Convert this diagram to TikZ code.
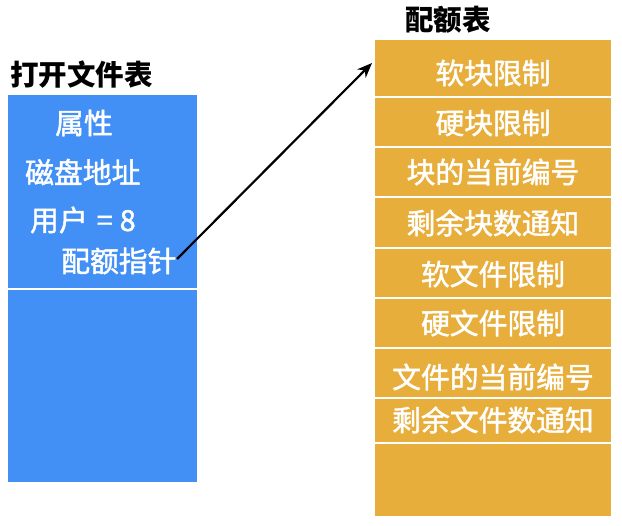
\documentclass[tikz,border=0pt]{standalone}
\usepackage{fontspec}
\setmainfont{Noto Sans CJK SC}
\newfontfamily\medfont[FakeBold=1.6]{Noto Sans CJK SC}
\usetikzlibrary{arrows.meta}
\definecolor{bluebox}{HTML}{4290F5}
\definecolor{orangebox}{HTML}{E8AE3B}
\begin{document}
\begin{tikzpicture}[x=1pt,y=-1pt,
  wtext/.style={text=white,font=\medfont\fontsize{28.8}{32}\selectfont,inner sep=0pt},
  ttext/.style={text=black,font=\fontsize{28.5}{32}\selectfont\bfseries,inner sep=0pt},
  sep/.style={draw=white,line width=2pt}]
\useasboundingbox (0,0) rectangle (622,526);
% left table
\node[draw=none,fill=bluebox,minimum width=189pt,minimum height=387pt,inner sep=0pt,anchor=north west] (ft) at (8,95) {};
\draw[sep] (8,289) -- (197,289);
\node[ttext,anchor=west] (ftt) at (10,75) {打开文件表};
\node[wtext,anchor=west] (a1) at (55,123) {属性};
\node[wtext,anchor=west] (a2) at (25,172) {磁盘地址};
\node[wtext,anchor=west] (a3) at (30,220) {用户\hspace{9pt}=\hspace{7pt}8};
\node[wtext,anchor=west] (a4) at (61,261) {配额指针};
% right table
\node[fill=orangebox,minimum width=236pt,minimum height=476pt,inner sep=0pt,anchor=north west] (qt) at (375,40) {};
\node[ttext,anchor=west] (qtt) at (405,20) {配额表};
\foreach \y in {97,147,197,248,298,348,398,443}{
  \draw[sep] (375,\y) -- (611,\y);
}
\node[wtext] (b1) at (493,73) {软块限制};
\node[wtext] (b2) at (493,123) {硬块限制};
\node[wtext] (b3) at (493,172) {块的当前编号};
\node[wtext] (b4) at (493,223) {剩余块数通知};
\node[wtext] (b5) at (493,274) {软文件限制};
\node[wtext] (b6) at (493,323) {硬文件限制};
\node[wtext] (b7) at (493,377) {文件的当前编号};
\node[wtext] (b8) at (493,420) {剩余文件数通知};
\coordinate (as) at (177,259);
\coordinate (ae) at (372,63);
\draw[line width=2.2pt,-{Stealth[length=15pt,width=12pt]}] (as) -- (ae);
\end{tikzpicture}
\end{document}
